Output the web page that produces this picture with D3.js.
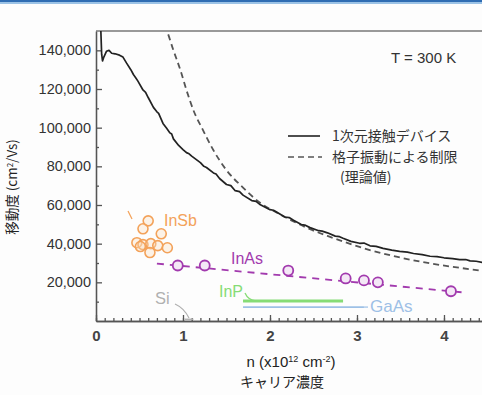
<!DOCTYPE html>
<html><head><meta charset="utf-8">
<script src="https://cdn.jsdelivr.net/npm/d3@7"></script>
<style>
html,body{margin:0;padding:0;background:#fdfdfd;}
svg{display:block;}
text{font-family:"Liberation Sans",Arial,sans-serif;}
.jp{font-family:"Noto Sans CJK JP","Liberation Sans",sans-serif;}
</style></head>
<body>
<svg id="c" width="482" height="395"></svg>
<script>
// ---- data ----
const deviceN  = [0.055,0.065,0.075,0.09,0.12,0.15,0.18,0.22,0.27,0.31,0.35,0.40,0.43,0.46,0.48,0.54,0.57,0.60,0.66,0.70,0.72,0.74,0.77,0.81,0.85,0.87,0.89,0.95,1.00,1.04,1.07,1.10,1.15,1.20,1.24,1.27,1.35,1.38,1.42,1.50,1.55,1.60,1.65,1.69,1.79,1.84,1.89,2.00,2.04,2.08,2.17,2.22,2.27,2.36,2.40,2.46,2.56,2.60,2.66,2.75,2.80,2.84,2.93,3.03,3.08,3.15,3.22,3.30,3.40,3.49,3.58,3.65,3.75,3.84,3.92,4.00,4.10,4.18,4.25,4.30,4.37,4.44];
const deviceMu = [151000,138000,134500,136500,139500,140000,138500,138200,137500,136500,133500,130000,127500,125600,124200,119500,118300,115600,110500,108200,107400,105300,102200,99800,97300,96700,94200,90800,88700,87100,86500,85300,83600,81900,80000,79400,76600,76000,73700,70600,70000,67400,66900,65100,62300,61900,60100,57600,57300,56200,53800,53500,52100,49900,49600,48300,46700,46500,45600,43900,43600,42800,41200,40200,40300,38900,38600,37600,36700,36000,35600,34900,34300,33500,33300,32700,32300,31700,31800,31100,30900,30300];
const latticeN  = [0.79,0.816,0.89,0.97,1.04,1.12,1.23,1.35,1.50,1.69,1.89,2.08,2.27,2.46,2.66,2.88,3.10,3.40,3.84,4.10,4.44];
const latticeMu = [153000,150000,140000,129800,119400,109000,98700,88300,78000,69000,61000,56000,51500,47500,44000,40500,37300,33800,29800,28000,26000];
const inasN  = [0.94,1.25,2.21,2.87,3.08,3.24,4.08];
const inasMu = [28700,28700,26100,22000,21000,20000,15400];
const inasFitN  = [0.70,4.24];
const inasFitMu = [29700,14700];
const insbN  = [0.60,0.54,0.75,0.47,0.54,0.63,0.71,0.82,0.62,0.51];
const insbMu = [51800,47700,45100,40500,39500,40000,39000,37900,35400,38500];
const inpN  = [1.69,2.84];
const inpMu = [10300,10300];
const gaasN  = [1.69,3.08];
const gaasMu = [7200,7200];
const siN  = [1.02,1.12];
const siMu = [900,900];
const xTicks = [0,1,2,3,4];
const yTicks = [20000,40000,60000,80000,100000,120000,140000];

// ---- layout ----
const svg = d3.select("#c");
const L=96, R=482, T=31, B=321;
const x = d3.scaleLinear().domain([0,4.437]).range([L,R]);
const y = d3.scaleLinear().domain([0,150000]).range([B,T]);

// top banner
svg.append("rect").attr("x",0).attr("y",0).attr("width",482).attr("height",2).attr("fill","#2f6db3");
svg.append("rect").attr("x",0).attr("y",2).attr("width",482).attr("height",2).attr("fill","#9cc3e6");

svg.append("defs").append("clipPath").attr("id","clip")
  .append("rect").attr("x",L).attr("y",T).attr("width",R-L).attr("height",B-T);

// axes
const axCol="#555";
const gx = svg.append("g").attr("transform",`translate(0,${B})`)
  .call(d3.axisBottom(x).tickValues(xTicks).tickSize(-6).tickSizeOuter(0).tickPadding(9).tickFormat(d3.format("d")));
const gxm = svg.append("g").attr("transform",`translate(0,${B})`)
  .call(d3.axisBottom(x).tickValues(d3.range(0,4.44,0.1)).tickSize(-3).tickSizeOuter(0).tickFormat(""));
const gy = svg.append("g").attr("transform",`translate(${L},0)`)
  .call(d3.axisLeft(y).tickValues(yTicks).tickSize(-6).tickSizeOuter(0).tickPadding(5).tickFormat(d3.format(",")));
const gym = svg.append("g").attr("transform",`translate(${L},0)`)
  .call(d3.axisLeft(y).tickValues(d3.range(10000,150000,20000)).tickSize(-3).tickSizeOuter(0).tickFormat(""));
[gx,gxm,gy,gym].forEach(g=>{
  g.selectAll("path,line").attr("stroke",axCol).attr("stroke-width",1.3);
  g.selectAll("text").attr("fill","#333").attr("font-size",14.5);
});
gx.selectAll("text").attr("font-size",15).attr("font-weight","bold").attr("fill","#444");
svg.append("line").attr("x1",L).attr("x2",R).attr("y1",T).attr("y2",T).attr("stroke","#777").attr("stroke-width",1.3);

const plot = svg.append("g").attr("clip-path","url(#clip)");
const line = d3.line().x(d=>x(d[0])).y(d=>y(d[1]));

// lattice limit (dashed)
plot.append("path").datum(latticeN.map((n,i)=>[n,latticeMu[i]]))
  .attr("d",d3.line().x(d=>x(d[0])).y(d=>y(d[1])).curve(d3.curveMonotoneX)).attr("fill","none").attr("stroke","#555")
  .attr("stroke-width",1.8).attr("stroke-dasharray","6,4");
// device (solid)
plot.append("path").datum(deviceN.map((n,i)=>[n,deviceMu[i]]))
  .attr("d",line).attr("fill","none").attr("stroke","#222")
  .attr("stroke-width",1.7).attr("stroke-linejoin","round");

// InAs
const purple="#a23aae";
plot.append("path").datum(inasFitN.map((n,i)=>[n,inasFitMu[i]]))
  .attr("d",line).attr("fill","none").attr("stroke",purple)
  .attr("stroke-width",1.8).attr("stroke-dasharray","7,6");
plot.selectAll(".inas").data(inasN.map((n,i)=>[n,inasMu[i]])).join("circle")
  .attr("cx",d=>x(d[0])).attr("cy",d=>y(d[1])).attr("r",5)
  .attr("fill","#f4e8f6").attr("stroke",purple).attr("stroke-width",1.8);

// InSb
const orange="#f3a25a";
plot.selectAll(".insb").data(insbN.map((n,i)=>[n,insbMu[i]])).join("circle")
  .attr("cx",d=>x(d[0])).attr("cy",d=>y(d[1])).attr("r",5)
  .attr("fill","rgba(250,220,190,0.35)").attr("stroke",orange).attr("stroke-width",1.6);
svg.append("line").attr("x1",128).attr("y1",211).attr("x2",132).attr("y2",219).attr("stroke",orange).attr("stroke-width",1.3);

// InP, GaAs, Si
const green="#86dc76", blue="#9dc0e6", grey="#b0b0b0";
plot.append("path").datum(inpN.map((n,i)=>[n,inpMu[i]])).attr("d",line)
  .attr("stroke",green).attr("stroke-width",3).attr("fill","none");
plot.append("path").datum(gaasN.map((n,i)=>[n,gaasMu[i]])).attr("d",line)
  .attr("stroke",blue).attr("stroke-width",1.6).attr("fill","none");
plot.append("path").datum(siN.map((n,i)=>[n,siMu[i]])).attr("d",line)
  .attr("stroke",grey).attr("stroke-width",1.4).attr("fill","none");
svg.append("path").attr("d","M245,293 Q248,300 256,301").attr("stroke",green).attr("stroke-width",1.3).attr("fill","none");
svg.append("path").attr("d",`M${x(3.08)},${y(7200)} L368,${y(7200)}`).attr("stroke",blue).attr("stroke-width",1.2).attr("fill","none");
svg.append("path").attr("d","M175,304 Q184,308 189,318").attr("stroke",grey).attr("stroke-width",1.2).attr("fill","none");

// labels
function lab(t,xx,yy,col,fs){svg.append("text").attr("x",xx).attr("y",yy).attr("fill",col).attr("font-size",fs).text(t);}
lab("InSb",164,226,orange,16);
lab("InAs",231,264,purple,16);
lab("InP",219,297,green,16);
lab("GaAs",370,312,blue,17);
lab("Si",155,304,grey,16.5);
lab("T = 300 K",391,63,"#333",15);

// legend
svg.append("line").attr("x1",288).attr("x2",320).attr("y1",136).attr("y2",136).attr("stroke","#222").attr("stroke-width",1.6);
svg.append("line").attr("x1",288).attr("x2",322).attr("y1",157).attr("y2",157).attr("stroke","#555").attr("stroke-width",1.6).attr("stroke-dasharray","6,4");
svg.append("text").attr("class","jp").attr("x",332).attr("y",141).attr("font-size",14).attr("fill","#333").text("1次元接触デバイス");
svg.append("text").attr("class","jp").attr("x",332).attr("y",162).attr("font-size",14).attr("fill","#333").text("格子振動による制限");
svg.append("text").attr("class","jp").attr("x",340).attr("y",182).attr("font-size",14).attr("fill","#333").text("(理論値)");

// axis titles
const xt = svg.append("text").attr("x",291).attr("y",367).attr("text-anchor","middle").attr("font-size",15).attr("fill","#222");
xt.append("tspan").text("n (x10");
xt.append("tspan").attr("dy",-5).attr("font-size",9).text("12");
xt.append("tspan").attr("dy",5).text(" cm");
xt.append("tspan").attr("dy",-5).attr("font-size",9).text("-2");
xt.append("tspan").attr("dy",5).text(")");
svg.append("text").attr("class","jp").attr("x",282).attr("y",387).attr("text-anchor","middle").attr("font-size",14).attr("fill","#222").text("キャリア濃度");

const yt = svg.append("text").attr("class","jp").attr("transform","translate(17,187) rotate(-90)")
  .attr("text-anchor","middle").attr("font-size",13.5).attr("fill","#222");
yt.append("tspan").text("移動度 (cm");
yt.append("tspan").attr("dy",-4).attr("font-size",8).text("2");
yt.append("tspan").attr("dy",4).text("/Vs)");
</script>
</body></html>
